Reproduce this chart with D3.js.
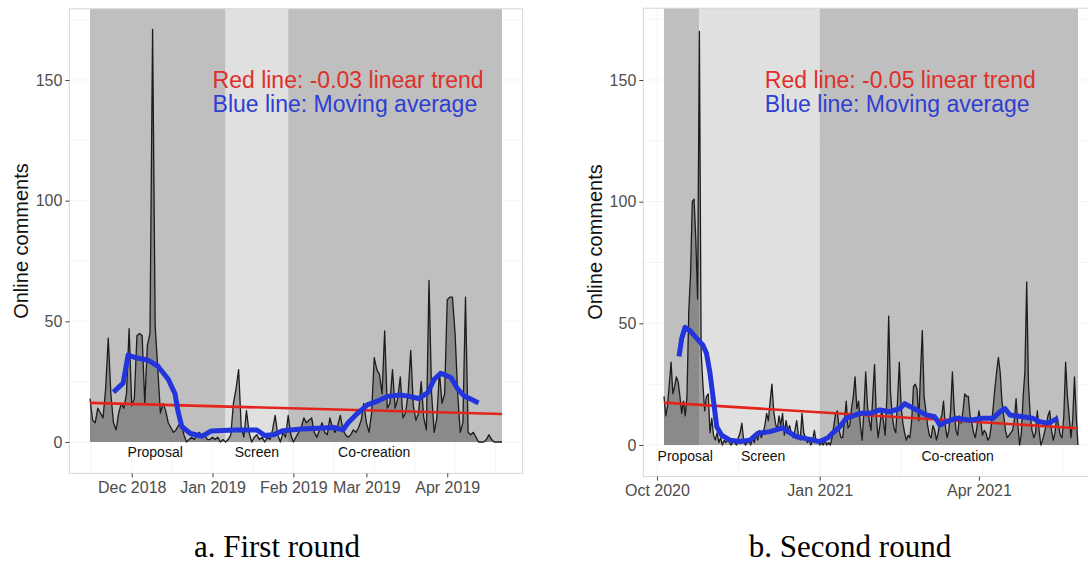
<!DOCTYPE html>
<html>
<head>
<meta charset="utf-8">
<script src="https://cdn.jsdelivr.net/npm/d3@7"></script>
<style>
  body { margin: 0; background: #fff; }
  text { font-family: "Liberation Sans", Arial, sans-serif; }
  text.caption { font-family: "Liberation Serif", "Times New Roman", serif; }
</style>
</head>
<body>
<svg id="chart" width="1088" height="563"></svg>
<script>
// ---- first round: daily comments from 2018-11-15 ----
const leftStart = '2018-11-15';
const leftEnd   = '2019-04-22';
const leftComments = [
  18, 9, 8, 14, 12, 10, 22, 43, 20, 8,
  5, 12, 16, 14, 20, 47, 15, 18, 44, 45,
  44, 16, 40, 45, 171, 48, 30, 12, 16, 13,
  8, 6, 4, 5, 7, 8, 3, 0, 1, 2,
  1, 3, 4, 2, 3, 1, 1, 2, 1, 2,
  0, 1, 0, 1, 3, 16, 22, 30, 6, 2,
  13, 4, 0, 2, 3, 1, 2, 0, 2, 1,
  5, 11, 3, 0, 4, 2, 11, 3, 0, 2,
  4, 6, 10, 8, 9, 10, 4, 2, 5, 8,
  4, 3, 10, 6, 4, 7, 11, 5, 3, 2,
  3, 5, 4, 6, 9, 16, 8, 4, 12, 35,
  30, 28, 20, 46, 14, 16, 30, 14, 18, 27,
  10, 12, 20, 38, 15, 9, 12, 25, 10, 5,
  67, 20, 4, 10, 29, 16, 20, 59, 60, 60,
  45, 20, 4, 8, 60, 4, 3, 4, 2, 0,
  0, 0, 1, 3, 1, 0, 0, 0, 0
];
// moving average (day offset from start, value)
const leftMaDays = [9, 12.7, 14.6, 18, 22, 26, 30, 32.6, 33.7, 35.2,
  38.5, 43, 46.5, 55, 64, 67, 70.4, 74, 81, 93.5,
  97, 99, 102.7, 106.5, 110, 114, 119, 122, 126, 129.6,
  132, 134.6, 138.5, 141, 143.5, 146, 149];
const leftMaVals = [20.7, 24.4, 36, 34.8, 34, 31.5, 26, 20, 13, 6.4,
  3.5, 2.4, 4.6, 5, 5, 2.7, 3, 4.7, 5.4, 6,
  5, 8, 12, 15.5, 16.8, 18.9, 19.5, 19, 18, 20.5,
  26, 28.5, 26.6, 22, 19, 17.8, 16.2];
const leftTrend = [16.2, 11.6];
const leftPhaseNames  = ['Proposal', 'Screen', 'Co-creation'];
const leftPhaseBounds = ['2018-11-15', '2019-01-06', '2019-01-30', '2019-04-22'];
const leftPhaseLabelAt = ['2018-12-10', '2019-01-18', '2019-03-04'];
const leftTicks = ['2018-12-01', '2019-01-01', '2019-02-01', '2019-03-01', '2019-04-01'];

// ---- second round: daily comments from 2020-10-05 ----
const rightStart = '2020-10-05';
const rightEnd   = '2021-05-27';
const rightComments = [
  20, 12, 16, 25, 34, 21, 24, 28, 26, 20,
  13, 18, 12, 20, 55, 70, 100, 101, 84, 60,
  170, 38, 25, 14, 20, 21, 5, 11, 4, 2,
  5, 1, 3, 0, 2, 1, 3, 1, 0, 2,
  1, 0, 3, 5, 9, 2, 0, 1, 2, 0,
  3, 1, 4, 2, 6, 3, 5, 8, 13, 10,
  18, 25, 14, 9, 6, 12, 8, 13, 4, 10,
  6, 8, 5, 3, 6, 10, 4, 2, 13, 5,
  3, 1, 2, 0, 2, 6, 1, 2, 0, 1,
  0, 2, 0, 1, 0, 3, 8, 13, 14, 6,
  3, 3, 10, 18, 7, 8, 15, 20, 28, 15,
  18, 8, 2, 14, 30, 16, 10, 6, 20, 33,
  12, 3, 8, 14, 10, 4, 20, 53, 22, 12,
  7, 5, 18, 34, 16, 9, 5, 2, 4, 3,
  10, 24, 25, 23, 10, 30, 47, 20, 14, 8,
  4, 3, 8, 6, 2, 5, 10, 12, 18, 8,
  3, 6, 14, 30, 15, 6, 4, 12, 9, 14,
  21, 20, 20, 12, 9, 5, 3, 8, 14, 10,
  4, 6, 5, 2, 3, 8, 15, 23, 30, 36,
  30, 18, 12, 6, 3, 4, 5, 6, 10, 19,
  8, 0, 5, 20, 30, 67, 25, 12, 6, 3,
  5, 14, 6, 0, 2, 5, 8, 12, 14, 6,
  2, 5, 12, 8, 4, 3, 12, 34, 20, 12,
  3, 10, 28, 12, 0
];
const rightMaDays = [8.5, 10, 11.9, 14.7, 18.5, 22, 24, 26, 27.7, 29.8,
  32.6, 37.3, 43, 48.6, 53, 59.9, 67.2, 70, 75, 82.5,
  88, 92.7, 95.5, 99.4, 103, 106.8, 110.7, 116.4, 122, 127.7,
  133.3, 136, 139, 142.8, 148.4, 153, 156, 159.7, 165.4, 172.9,
  180, 186, 190, 192.7, 195.5, 202.8, 208.5, 212.4, 216.2, 219,
  222.6];
const rightMaVals = [36.4, 43.8, 48.4, 47, 43.8, 41, 37.7, 29.5, 19.8, 7.5,
  4, 2, 1.4, 2, 4.8, 5.5, 7, 5.5, 3.4, 2.3,
  1.4, 3, 5, 7.5, 11, 12, 13, 13, 14.4, 13.7,
  15, 17, 15.8, 14.4, 12.3, 11.6, 8.2, 9.6, 11, 10.2,
  11, 11, 13.7, 15, 12.3, 11.6, 11, 9.6, 9, 9.6,
  11];
const rightTrend = [17.4, 6.9];
const rightPhaseNames  = ['Proposal', 'Screen', 'Co-creation'];
const rightPhaseBounds = ['2020-10-05', '2020-10-25', '2021-01-01', '2021-05-27'];
const rightPhaseLabelAt = ['2020-10-17', '2020-11-30', '2021-03-20'];
const rightTicks = ['2020-10-01', '2021-01-01', '2021-04-01'];

const yTicks = [0, 50, 100, 150];
const phaseFill = ['#bfbfbf', '#e0e0e0', '#bfbfbf'];

const parse = d3.utcParse('%Y-%m-%d');
const fmt = d3.utcFormat('%b %Y');
const DAY = 864e5;
const svg = d3.select('#chart');
svg.append('rect').attr('width', 1088).attr('height', 563).attr('fill', '#fff');

function drawPanel(p) {
  const start = parse(p.start), end = parse(p.end);
  const x = d3.scaleUtc().domain([start, end]).range(p.xRange);
  const y = d3.scaleLinear().domain([0, 150]).range([p.y0, 80]);
  const span = p.xRange[1] - p.xRange[0];
  const pl = p.xRange[0] - 0.05 * span, pr = p.xRange[1] + 0.05 * span;
  const pt = y(179.5), pb = y(-13);
  const dayDate = (d) => new Date(+start + d * DAY);
  const g = svg.append('g');

  // panel + faint grid
  g.append('rect').attr('x', pl).attr('y', pt).attr('width', pr - pl).attr('height', pb - pt)
    .attr('fill', '#fff');
  const ticks = p.ticks.map(parse);
  const tx = ticks.map(x);
  const step = tx[1] - tx[0];
  const gridX = [];
  for (let v = tx[0] - step; v < pr; v += step / 2) if (v > pl) gridX.push(v);
  gridX.forEach((v) => {
    g.append('line').attr('x1', v).attr('x2', v).attr('y1', pt).attr('y2', pb)
      .attr('stroke', '#ececec').attr('stroke-width', 0.6);
  });
  [0, 25, 50, 75, 100, 125, 150, 175].forEach((v) => {
    g.append('line').attr('x1', pl).attr('x2', pr).attr('y1', y(v)).attr('y2', y(v))
      .attr('stroke', '#ececec').attr('stroke-width', 0.6);
  });

  // phase shading
  const bounds = p.phaseBounds.map(parse);
  p.phaseNames.forEach((name, i) => {
    g.append('rect')
      .attr('x', x(bounds[i])).attr('y', pt)
      .attr('width', x(bounds[i + 1]) - x(bounds[i])).attr('height', y(0) - pt)
      .attr('fill', phaseFill[i]);
  });

  // comments area + line
  const area = d3.area().x((d, i) => x(dayDate(i))).y0(y(0)).y1((d) => y(d));
  const line = d3.line().x((d, i) => x(dayDate(i))).y((d) => y(d));
  g.append('path').datum(p.values).attr('d', area).attr('fill', '#000').attr('fill-opacity', 0.28);
  g.append('path').datum(p.values).attr('d', line).attr('fill', 'none')
    .attr('stroke', '#1c1c1c').attr('stroke-width', 1.3).attr('stroke-linejoin', 'round');

  // linear trend
  g.append('line').attr('x1', x(start)).attr('y1', y(p.trend[0]))
    .attr('x2', x(end)).attr('y2', y(p.trend[1]))
    .attr('stroke', '#e3241c').attr('stroke-width', 2.6);

  // moving average
  const ma = p.maDays.map((d, i) => [d, p.maVals[i]]);
  g.append('path').datum(ma)
    .attr('d', d3.line().x((d) => x(dayDate(d[0]))).y((d) => y(d[1])))
    .attr('fill', 'none').attr('stroke', '#2234dc').attr('stroke-width', 5)
    .attr('stroke-linejoin', 'round');

  // phase labels
  p.phaseLabelAt.forEach((d, i) => {
    g.append('text').attr('x', x(parse(d))).attr('y', y(p.labelY)).attr('dy', '0.35em')
      .attr('text-anchor', 'middle').attr('font-size', 14).attr('fill', '#111')
      .text(p.phaseNames[i]);
  });

  // border
  g.append('rect').attr('x', pl).attr('y', pt).attr('width', pr - pl).attr('height', pb - pt)
    .attr('fill', 'none').attr('stroke', '#d6d6d6').attr('stroke-width', 1);

  // axes
  const ax = g.append('g').attr('transform', `translate(0,${pb})`)
    .call(d3.axisBottom(x).tickValues(ticks).tickFormat(fmt).tickSize(4).tickPadding(4));
  const ay = g.append('g').attr('transform', `translate(${pl},0)`)
    .call(d3.axisLeft(y).tickValues(yTicks).tickSize(4).tickPadding(3));
  [ax, ay].forEach((a) => {
    a.select('.domain').remove();
    a.selectAll('line').attr('stroke', '#444');
    a.selectAll('text').attr('fill', '#4d4d4d').attr('font-size', 16)
      .attr('font-family', '"Liberation Sans", Arial, sans-serif');
  });

  // y title
  g.append('text').attr('transform', `translate(${p.titleX},${p.titleY}) rotate(-90)`)
    .attr('text-anchor', 'middle').attr('font-size', 20).attr('fill', '#111')
    .text('Online comments');

  // annotations
  const ann = x(parse(p.annAt));
  g.append('text').attr('x', ann).attr('y', 88).attr('font-size', 23).attr('fill', '#de2f2a')
    .text(p.trendLabel);
  g.append('text').attr('x', ann).attr('y', 112).attr('font-size', 23).attr('fill', '#2f3ed2')
    .text('Blue line: Moving average');

  // caption
  svg.append('text').attr('class', 'caption').attr('x', p.capX).attr('y', 557)
    .attr('text-anchor', 'middle')
    .attr('font-size', 31).attr('fill', '#000').text(p.caption);
}

drawPanel({
  start: leftStart, end: leftEnd, values: leftComments,
  maDays: leftMaDays, maVals: leftMaVals, trend: leftTrend,
  phaseNames: leftPhaseNames, phaseBounds: leftPhaseBounds, phaseLabelAt: leftPhaseLabelAt,
  ticks: leftTicks, xRange: [90, 502], y0: 442, labelY: -4,
  titleX: 28, titleY: 241, annAt: '2019-01-01',
  trendLabel: 'Red line: -0.03 linear trend',
  caption: 'a. First round', capX: 277
});

drawPanel({
  start: rightStart, end: rightEnd, values: rightComments,
  maDays: rightMaDays, maVals: rightMaVals, trend: rightTrend,
  phaseNames: rightPhaseNames, phaseBounds: rightPhaseBounds, phaseLabelAt: rightPhaseLabelAt,
  ticks: rightTicks, xRange: [664, 1078], y0: 445, labelY: -4.5,
  titleX: 602, titleY: 242, annAt: '2020-12-01',
  trendLabel: 'Red line: -0.05 linear trend',
  caption: 'b. Second round', capX: 850
});
</script>
</body>
</html>
